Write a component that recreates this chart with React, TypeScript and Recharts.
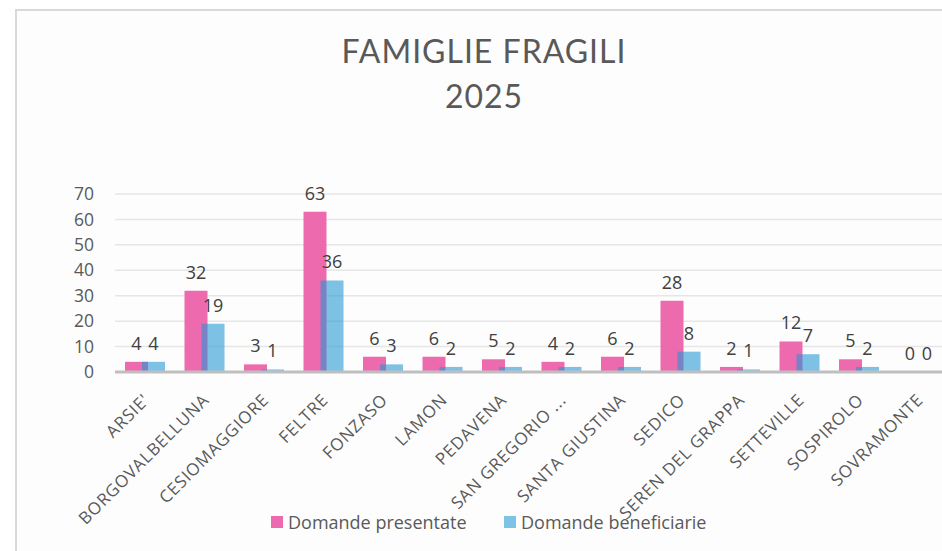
import React from "react";
import { BarChart, Bar, XAxis, YAxis, CartesianGrid, LabelList, Legend } from "recharts";

const comuni = [
  "ARSIE'",
  "BORGOVALBELLUNA",
  "CESIOMAGGIORE",
  "FELTRE",
  "FONZASO",
  "LAMON",
  "PEDAVENA",
  "SAN GREGORIO ...",
  "SANTA GIUSTINA",
  "SEDICO",
  "SEREN DEL GRAPPA",
  "SETTEVILLE",
  "SOSPIROLO",
  "SOVRAMONTE",
];
const presentate = [4, 32, 3, 63, 6, 6, 5, 4, 6, 28, 2, 12, 5, 0];
const beneficiarie = [4, 19, 1, 36, 3, 2, 2, 2, 2, 8, 1, 7, 2, 0];
const yTicks = [0, 10, 20, 30, 40, 50, 60, 70];
const titleLines = ["FAMIGLIE FRAGILI", "2025"];
const seriesNames = ["Domande presentate", "Domande beneficiarie"];

const data = comuni.map((c, i) => ({ name: c, presentate: presentate[i], beneficiarie: beneficiarie[i] }));

const FONT = "'Open Sans', Lato, sans-serif";
const TITLE_FONT = "Lato, 'Open Sans', sans-serif";
const PINK = "#EE6AAE";
const BLUE_SOLID = "#7EC2E6";

const zeroMin = (v: any) => (v === 0 ? 0.05 : 0);

const XTick = (props: any) => {
  const { x, y, payload } = props;
  const tx = x + 6;
  const ty = y + 29;
  return (
    <text
      x={tx}
      y={ty}
      transform={`rotate(-45, ${tx}, ${ty})`}
      textAnchor="end"
      fontSize={17}
      letterSpacing={0.8}
      fill="#595959"
      fontFamily={FONT}
    >
      {payload.value}
    </text>
  );
};

const LegendContent = () => {
  const items = [
    { name: seriesNames[0], color: PINK, left: 271 },
    { name: seriesNames[1], color: BLUE_SOLID, left: 504 },
  ];
  return (
    <div style={{ position: "relative", height: 24, width: 942, top: -7 }}>
      {items.map((it) => (
        <div
          key={it.name}
          style={{
            position: "absolute",
            left: it.left,
            top: 0,
            display: "flex",
            alignItems: "center",
            fontFamily: FONT,
            fontSize: 18,
            color: "#595959",
            whiteSpace: "nowrap",
          }}
        >
          <span style={{ display: "inline-block", width: 12, height: 12, background: it.color, marginRight: 5 }} />
          {it.name}
        </div>
      ))}
    </div>
  );
};

export default function App() {
  return (
    <div style={{ position: "absolute", left: 0, top: 0, width: 942, height: 551, overflow: "hidden", background: "#ffffff" }}>
      <div
        style={{
          position: "absolute",
          left: 15,
          top: 9,
          width: 960,
          height: 560,
          border: "2px solid #d9d9d9",
          background: "#fdfdfd",
        }}
      />
      {titleLines.map((t, i) => (
        <div
          key={t}
          style={{
            position: "absolute",
            left: 0,
            width: 968,
            top: 31 + i * 45,
            textAlign: "center",
            fontFamily: TITLE_FONT,
            fontSize: 32,
            lineHeight: "40px",
            color: "#595959",
            letterSpacing: 1,
          }}
        >
          {t}
        </div>
      ))}
      <div style={{ position: "absolute", left: 0, top: 0 }}>
        <BarChart
          width={950}
          height={551}
          data={data}
          margin={{ top: 194, right: 2, left: 0, bottom: 10 }}
          barGap={-6}
        >
          <CartesianGrid vertical={false} stroke="#e6e6e6" strokeWidth={1.5} />
          <YAxis
            width={115}
            domain={[0, 70]}
            ticks={yTicks}
            interval={0}
            axisLine={false}
            tickLine={false}
            tickMargin={15}
            tick={{ fontSize: 17.5, fill: "#595959", fontFamily: FONT }}
          />
          <XAxis
            dataKey="name"
            interval={0}
            height={145}
            tickLine={false}
            tickSize={0}
            tickMargin={0}
            axisLine={{ stroke: "#bfbfbf", strokeWidth: 3 }}
            tick={<XTick />}
          />
          <Legend verticalAlign="bottom" height={24} content={<LegendContent />} />
          <Bar dataKey="presentate" name={seriesNames[0]} fill={PINK} barSize={23} minPointSize={zeroMin} isAnimationActive={false}>
            <LabelList dataKey="presentate" position="top" offset={12} fill="#404040" fontSize={18} fontFamily={FONT} />
          </Bar>
          <Bar dataKey="beneficiarie" name={seriesNames[1]} fill="#2196D4" fillOpacity={0.58} barSize={23} minPointSize={zeroMin} isAnimationActive={false}>
            <LabelList dataKey="beneficiarie" position="top" offset={12} fill="#404040" fontSize={18} fontFamily={FONT} />
          </Bar>
        </BarChart>
      </div>
    </div>
  );
}
